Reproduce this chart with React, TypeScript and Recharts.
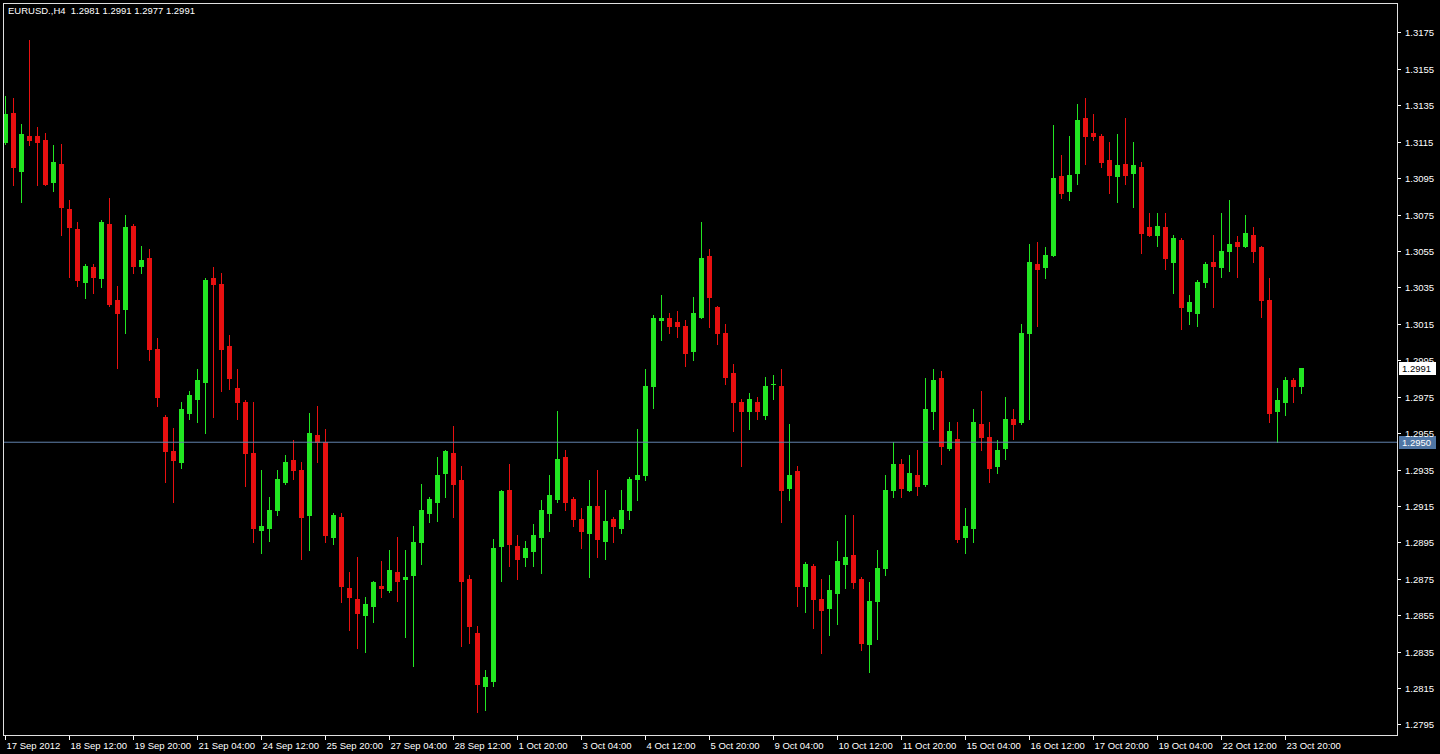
import { ComposedChart, Bar, XAxis, YAxis, ReferenceLine } from 'recharts';

// EURUSD H4 candles, [open, high, low, close], one array per trading week
const week38 = [
  [1.3115, 1.3140, 1.3114, 1.3130], [1.3131, 1.3139, 1.3091, 1.3101], [1.3099, 1.3125, 1.3082, 1.3119],
  [1.3118, 1.3171, 1.3113, 1.3116], [1.3118, 1.3123, 1.3091, 1.3115], [1.3116, 1.3120, 1.3091, 1.3092],
  [1.3093, 1.3113, 1.3088, 1.3104], [1.3103, 1.3114, 1.3064, 1.3079], [1.3078, 1.3083, 1.3041, 1.3068],
  [1.3067, 1.3071, 1.3036, 1.3039], [1.3038, 1.3048, 1.3029, 1.3047], [1.3046, 1.3048, 1.3032, 1.3041],
  [1.3040, 1.3072, 1.3035, 1.3071], [1.3070, 1.3084, 1.3025, 1.3026], [1.3028, 1.3036, 1.2991, 1.3021],
  [1.3023, 1.3075, 1.3010, 1.3068], [1.3069, 1.3070, 1.3043, 1.3047], [1.3047, 1.3058, 1.3043, 1.3050],
  [1.3051, 1.3056, 1.2995, 1.3001], [1.3001, 1.3007, 1.2970, 1.2975], [1.2964, 1.2965, 1.2928, 1.2945],
  [1.2945, 1.2958, 1.2917, 1.2940], [1.2939, 1.2972, 1.2936, 1.2968], [1.2966, 1.2978, 1.2963, 1.2976],
  [1.2974, 1.2990, 1.2961, 1.2984], [1.2983, 1.3040, 1.2955, 1.3039], [1.3040, 1.3046, 1.2964, 1.3037],
  [1.3037, 1.3043, 1.2978, 1.3001], [1.3003, 1.3009, 1.2979, 1.2985],
];

const week39 = [
  [1.2980, 1.2990, 1.2963, 1.2972], [1.2972, 1.2973, 1.2926, 1.2944], [1.2944, 1.2972, 1.2895, 1.2903],
  [1.2902, 1.2935, 1.2889, 1.2904], [1.2903, 1.2920, 1.2896, 1.2913], [1.2913, 1.2935, 1.2910, 1.2930],
  [1.2928, 1.2943, 1.2927, 1.2939], [1.2940, 1.2951, 1.2930, 1.2935], [1.2935, 1.2939, 1.2886, 1.2909],
  [1.2910, 1.2966, 1.2891, 1.2955], [1.2954, 1.2970, 1.2939, 1.2950], [1.2950, 1.2957, 1.2895, 1.2899],
  [1.2898, 1.2911, 1.2894, 1.2910], [1.2909, 1.2911, 1.2862, 1.2871], [1.2870, 1.2879, 1.2847, 1.2865],
  [1.2864, 1.2887, 1.2837, 1.2856], [1.2855, 1.2865, 1.2835, 1.2861], [1.2860, 1.2874, 1.2851, 1.2873],
  [1.2871, 1.2885, 1.2865, 1.2870], [1.2869, 1.2891, 1.2868, 1.2880], [1.2879, 1.2898, 1.2863, 1.2874],
  [1.2875, 1.2891, 1.2843, 1.2876], [1.2877, 1.2904, 1.2827, 1.2895], [1.2895, 1.2927, 1.2883, 1.2913],
  [1.2911, 1.2920, 1.2906, 1.2919], [1.2917, 1.2942, 1.2907, 1.2932], [1.2933, 1.2946, 1.2920, 1.2945],
  [1.2944, 1.2959, 1.2909, 1.2927], [1.2929, 1.2937, 1.2838, 1.2874], [1.2875, 1.2877, 1.2840, 1.2849],
];

const week40 = [
  [1.2845, 1.2849, 1.2802, 1.2817], [1.2816, 1.2825, 1.2803, 1.2821], [1.2819, 1.2897, 1.2816, 1.2892],
  [1.2893, 1.2924, 1.2874, 1.2923], [1.2924, 1.2938, 1.2882, 1.2894], [1.2893, 1.2899, 1.2875, 1.2886],
  [1.2887, 1.2896, 1.2882, 1.2892], [1.2890, 1.2905, 1.2882, 1.2899], [1.2898, 1.2918, 1.2878, 1.2913],
  [1.2911, 1.2932, 1.2901, 1.2921], [1.2919, 1.2967, 1.2917, 1.2941], [1.2942, 1.2946, 1.2913, 1.2917],
  [1.2919, 1.2920, 1.2904, 1.2908], [1.2908, 1.2914, 1.2892, 1.2901], [1.2900, 1.2929, 1.2876, 1.2915],
  [1.2915, 1.2935, 1.2887, 1.2897], [1.2896, 1.2924, 1.2886, 1.2907], [1.2908, 1.2909, 1.2895, 1.2904],
  [1.2903, 1.2924, 1.2900, 1.2913], [1.2913, 1.2931, 1.2908, 1.2930], [1.2930, 1.2957, 1.2918, 1.2932],
  [1.2932, 1.2990, 1.2929, 1.2981], [1.2981, 1.3020, 1.2969, 1.3018], [1.3017, 1.3031, 1.3006, 1.3018],
  [1.3018, 1.3021, 1.3010, 1.3014], [1.3016, 1.3022, 1.3008, 1.3014], [1.3014, 1.3017, 1.2992, 1.2999],
  [1.3000, 1.3030, 1.2995, 1.3021], [1.3019, 1.3071, 1.3018, 1.3051], [1.3052, 1.3056, 1.3013, 1.3030],
];

const week41 = [
  [1.3024, 1.3025, 1.3004, 1.3010], [1.3010, 1.3015, 1.2982, 1.2986], [1.2988, 1.2993, 1.2956, 1.2972],
  [1.2972, 1.2974, 1.2937, 1.2967], [1.2967, 1.2977, 1.2957, 1.2974], [1.2972, 1.2975, 1.2963, 1.2967],
  [1.2965, 1.2986, 1.2963, 1.2981], [1.2982, 1.2987, 1.2974, 1.2982], [1.2981, 1.2990, 1.2906, 1.2924],
  [1.2925, 1.2960, 1.2918, 1.2932], [1.2934, 1.2937, 1.2860, 1.2871], [1.2871, 1.2884, 1.2857, 1.2883],
  [1.2882, 1.2883, 1.2848, 1.2864], [1.2864, 1.2875, 1.2834, 1.2858], [1.2859, 1.2877, 1.2844, 1.2869],
  [1.2867, 1.2896, 1.2850, 1.2885], [1.2883, 1.2910, 1.2870, 1.2887], [1.2888, 1.2910, 1.2870, 1.2873],
  [1.2875, 1.2876, 1.2836, 1.2840], [1.2839, 1.2873, 1.2824, 1.2863], [1.2863, 1.2891, 1.2842, 1.2881],
  [1.2881, 1.2932, 1.2877, 1.2924], [1.2924, 1.2950, 1.2920, 1.2938], [1.2938, 1.2941, 1.2920, 1.2925],
  [1.2924, 1.2943, 1.2923, 1.2933], [1.2932, 1.2946, 1.2921, 1.2926], [1.2927, 1.2985, 1.2926, 1.2968],
  [1.2967, 1.2990, 1.2957, 1.2984], [1.2985, 1.2989, 1.2938, 1.2948], [1.2947, 1.2961, 1.2946, 1.2956],
];

const week42 = [
  [1.2952, 1.2961, 1.2895, 1.2897], [1.2898, 1.2914, 1.2889, 1.2904], [1.2903, 1.2968, 1.2895, 1.2961],
  [1.2960, 1.2978, 1.2946, 1.2953], [1.2953, 1.2961, 1.2928, 1.2936], [1.2937, 1.2951, 1.2933, 1.2946],
  [1.2947, 1.2975, 1.2941, 1.2963], [1.2963, 1.2968, 1.2952, 1.2960], [1.2961, 1.3015, 1.2960, 1.3010],
  [1.3010, 1.3059, 1.2963, 1.3049], [1.3048, 1.3060, 1.3014, 1.3045], [1.3046, 1.3057, 1.3040, 1.3053],
  [1.3053, 1.3124, 1.3052, 1.3095], [1.3096, 1.3108, 1.3084, 1.3087], [1.3088, 1.3118, 1.3083, 1.3097],
  [1.3098, 1.3136, 1.3092, 1.3127], [1.3128, 1.3139, 1.3103, 1.3118], [1.3120, 1.3130, 1.3116, 1.3118],
  [1.3118, 1.3119, 1.3101, 1.3104], [1.3105, 1.3115, 1.3087, 1.3097], [1.3096, 1.3119, 1.3082, 1.3102],
  [1.3103, 1.3128, 1.3092, 1.3097], [1.3098, 1.3115, 1.3079, 1.3102], [1.3101, 1.3104, 1.3054, 1.3065],
  [1.3068, 1.3076, 1.3063, 1.3064], [1.3064, 1.3076, 1.3058, 1.3069], [1.3068, 1.3076, 1.3045, 1.3051],
  [1.3049, 1.3064, 1.3032, 1.3062], [1.3061, 1.3062, 1.3012, 1.3024], [1.3022, 1.3031, 1.3015, 1.3027],
];

const week43 = [
  [1.3021, 1.3039, 1.3014, 1.3038], [1.3038, 1.3049, 1.3035, 1.3048], [1.3049, 1.3064, 1.3024, 1.3047],
  [1.3046, 1.3076, 1.3041, 1.3055], [1.3055, 1.3083, 1.3044, 1.3059], [1.3060, 1.3063, 1.3041, 1.3058],
  [1.3058, 1.3075, 1.3057, 1.3065], [1.3064, 1.3068, 1.3049, 1.3055], [1.3057, 1.3058, 1.3019, 1.3028],
  [1.3028, 1.3040, 1.2961, 1.2966], [1.2967, 1.2980, 1.2950, 1.2973], [1.2972, 1.2986, 1.2965, 1.2984],
  [1.2984, 1.2985, 1.2972, 1.2981], [1.2981, 1.2991, 1.2977, 1.2991],
];

const timeLabels = [
  '17 Sep 2012', '18 Sep 12:00', '19 Sep 20:00', '21 Sep 04:00', '24 Sep 12:00', '25 Sep 20:00',
  '27 Sep 04:00', '28 Sep 12:00', '1 Oct 20:00', '3 Oct 04:00', '4 Oct 12:00', '5 Oct 20:00',
  '9 Oct 04:00', '10 Oct 12:00', '11 Oct 20:00', '15 Oct 04:00', '16 Oct 12:00', '17 Oct 20:00',
  '19 Oct 04:00', '22 Oct 12:00', '23 Oct 20:00',
];
const BARS_PER_LABEL = 8;

const priceTicks = [
  1.2795, 1.2815, 1.2835, 1.2855, 1.2875, 1.2895, 1.2915, 1.2935, 1.2955, 1.2975,
  1.2995, 1.3015, 1.3035, 1.3055, 1.3075, 1.3095, 1.3115, 1.3135, 1.3155, 1.3175,
];
const horizontalLevel = 1.295;

const candles = [...week38, ...week39, ...week40, ...week41, ...week42, ...week43].map(
  ([open, high, low, close], i) => ({ i, open, high, low, close }),
);
const last = candles[candles.length - 1];

const BULL = '#22e622';
const BEAR = '#e81010';
const FG = '#ffffff';
const FONT = '"Liberation Sans", Arial, sans-serif';

function Candle(props: any) {
  const { x, y, width, height, payload } = props;
  if (!payload || height == null || isNaN(y)) return null;
  const top = Math.min(y, y + height);
  const bottom = Math.max(y, y + height);
  const { open, high, low, close } = payload;
  const ppu = (bottom - top) / (high - low);
  const cx = Math.floor(x + width / 2);
  const bodyTop = Math.round(top + (high - Math.max(open, close)) * ppu);
  const bodyBottom = Math.round(top + (high - Math.min(open, close)) * ppu);
  const color = close >= open ? BULL : BEAR;
  return (
    <g>
      <line x1={cx + 0.5} x2={cx + 0.5} y1={Math.round(top)} y2={Math.round(bottom) + 1} stroke={color} strokeWidth={1} />
      <rect x={cx - 2} y={bodyTop} width={5} height={Math.max(1, bodyBottom - bodyTop + 1)} fill={color} />
    </g>
  );
}

function TimeTick({ x, y, payload }: any) {
  const px = Math.floor(x) + 0.5;
  return (
    <g>
      <line x1={px} x2={px} y1={y} y2={y + 5} stroke={FG} strokeWidth={1} />
      <text x={px + 1} y={y + 14} fill={FG} fontSize={9.5} fontFamily={FONT}>
        {timeLabels[payload.value / BARS_PER_LABEL]}
      </text>
    </g>
  );
}

function PriceTick({ x, y, payload }: any) {
  const py = Math.round(y) + 0.5;
  return (
    <g>
      <line x1={x} x2={x + 4} y1={py} y2={py} stroke={FG} strokeWidth={1} />
      <text x={x + 8} y={py + 3.5} fill={FG} fontSize={9.5} fontFamily={FONT}>
        {payload.value.toFixed(4)}
      </text>
    </g>
  );
}

const priceTag = (value: number, bg: string, fg: string) => (props: any) => {
  const { x, y, width } = props.viewBox;
  const top = Math.round(y) - 6;
  return (
    <g>
      <rect x={x + width + 2} y={top} width={37} height={13} fill={bg} />
      <text x={x + width + 5} y={top + 10} fill={fg} fontSize={9.5} fontFamily={FONT}>
        {value.toFixed(4)}
      </text>
    </g>
  );
};

export default function App() {
  const title = `EURUSD.,H4  ${last.open.toFixed(4)} ${last.high.toFixed(4)} ${last.low.toFixed(4)} ${last.close.toFixed(4)}`;
  return (
    <div style={{ position: 'absolute', left: 0, top: 0, width: 1440, height: 754, background: '#000', overflow: 'hidden' }}>
      <ComposedChart width={1440} height={754} data={candles} margin={{ top: 4, right: 0, bottom: 0, left: 4 }}>
        <XAxis
          dataKey="i"
          height={19}
          padding={{ left: -2.7, right: 91.7 }}
          ticks={timeLabels.map((_, j) => j * BARS_PER_LABEL)}
          interval={0}
          axisLine={false}
          tickLine={false}
          tickSize={0}
          tickMargin={0}
          tick={<TimeTick />}
        />
        <YAxis
          orientation="right"
          width={43}
          type="number"
          domain={[1.278922, 1.319065]}
          ticks={priceTicks}
          interval={0}
          axisLine={false}
          tickLine={false}
          tickSize={0}
          tickMargin={0}
          tick={<PriceTick />}
        />
        <Bar
          dataKey={(d: any) => [d.low, d.high]}
          barCategoryGap={0}
          shape={<Candle />}
          isAnimationActive={false}
        />
        <ReferenceLine y={horizontalLevel} stroke="#6283ad" strokeWidth={1} label={priceTag(horizontalLevel, '#4f75a3', '#ffffff')} />
        <ReferenceLine y={last.close} stroke="none" label={priceTag(last.close, '#ffffff', '#000000')} />
      </ComposedChart>
      <div
        style={{
          position: 'absolute', left: 3, top: 3, width: 1395, height: 733, boxSizing: 'border-box',
          border: '1px solid #e0e0e0', pointerEvents: 'none',
        }}
      />
      <div
        style={{
          position: 'absolute', left: 8, top: 5, color: FG, fontFamily: FONT, fontSize: 9.5, whiteSpace: 'pre',
        }}
      >
        {title}
      </div>
    </div>
  );
}
